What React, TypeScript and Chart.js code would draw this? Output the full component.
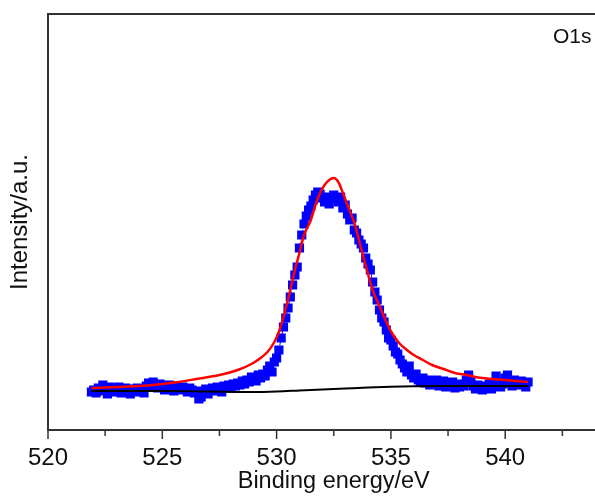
import React, { useEffect, useRef } from "react";
import { Chart, registerables } from "chart.js";

Chart.register(...registerables);

// Measured O1s spectrum: evenly sampled binding energies
const energyStart = 521.9;
const energyStep = 0.1;
const measuredIntensity = [
  38, 40, 37, 42, 39, 45, 41, 36, 43, 40,
  38, 41, 43, 37, 40, 42, 38, 36, 41, 39,
  42, 38, 40, 37, 44, 47, 43, 48, 45, 42,
  46, 44, 40, 43, 45, 41, 39, 44, 42, 40,
  43, 41, 38, 42, 40, 37, 39, 31, 33, 38,
  41, 36, 40, 42, 39, 43, 41, 38, 44, 42,
  45, 43, 46, 44, 47, 45, 49, 46, 50, 48,
  53, 51, 49, 55, 52, 56, 54, 60, 64, 58,
  68, 72, 80, 92, 103, 112, 122, 133, 145, 155,
  163, 182, 195, 206, 214, 220, 224, 230, 235, 238,
  236, 232, 228, 233, 226, 231, 235, 232, 228, 233,
  222, 225, 216, 210, 212, 200, 197, 190, 186, 182,
  172, 166, 160, 148, 138, 130, 120, 112, 108, 100,
  92, 90, 84, 78, 76, 70, 66, 62, 58, 64,
  55, 52, 56, 50, 48, 52, 47, 50, 45, 48,
  46, 50, 44, 47, 49, 43, 46, 44, 48, 42,
  45, 43, 46, 44, 50, 55, 48, 44, 41, 45,
  43, 40, 44, 42, 46, 41, 47, 54, 48, 43,
  46, 52, 55, 48, 44, 50, 47, 45, 49, 46,
  43, 48,
];

// Fitted envelope (red)
const fitEnergy = [
  521.9, 523.0, 524.0, 525.0, 525.7, 526.5, 527.5, 528.3, 528.9, 529.3,
  529.6, 529.9, 530.1, 530.3, 530.6, 530.8, 531.0, 531.2, 531.5, 531.7,
  531.9, 532.1, 532.3, 532.5, 532.7, 532.9, 533.1, 533.4, 533.8, 534.2,
  534.5, 534.8, 535.1, 535.4, 535.7, 536.0, 536.4, 536.8, 537.3, 537.8,
  538.3, 539.0, 540.0, 541.0,
];
const fitIntensity = [
  42, 43, 44, 46, 48, 51, 55, 60, 66, 72,
  78, 88, 98, 113, 140, 160, 177, 195, 210, 225,
  237, 245, 250, 252, 248, 237, 225, 207, 173, 140,
  124, 108, 95, 86, 80, 75, 70, 65, 61, 57,
  55, 52, 50, 48,
];

// Background (black)
const bgEnergy = [521.9, 525.0, 529.0, 530.0, 531.0, 532.0, 533.0, 534.0, 535.0, 536.0, 537.0, 539.0, 541.0];
const bgIntensity = [39, 39, 38, 38.5, 39.5, 40.5, 41.5, 42.5, 43.2, 43.7, 44, 44, 44];

const xTickValues = [520, 525, 530, 535, 540];
const xMin = 520;
const xMax = 545;
const xAxisTitle = "Binding energy/eV";
const yAxisTitle = "Intensity/a.u.";
const peakLabel = "O1s";

const FONT = "'Liberation Sans', Arial, Helvetica, sans-serif";

const axesPlugin = {
  id: "xpsAxes",
  afterDatasetsDraw(chart: any) {
    const { ctx, chartArea, scales } = chart;
    const { left, top, right, bottom } = chartArea;
    const x = scales.x;
    ctx.save();
    ctx.strokeStyle = "#333333";
    ctx.lineWidth = 2;
    ctx.beginPath();
    ctx.moveTo(left - 1, bottom);
    ctx.lineTo(right, bottom);
    ctx.moveTo(left - 1, top);
    ctx.lineTo(right, top);
    ctx.moveTo(left, top - 1);
    ctx.lineTo(left, bottom + 1);
    ctx.stroke();

    ctx.lineWidth = 1.5;
    const ticks = x.ticks && x.ticks.length ? x.ticks.map((t: any) => t.value) : [];
    for (const v of ticks) {
      const px = x.getPixelForValue(v);
      const major = Math.abs(v % 5) < 1e-6;
      ctx.beginPath();
      ctx.moveTo(px, bottom);
      ctx.lineTo(px, bottom + (major ? 9 : 6));
      ctx.stroke();
    }

    ctx.fillStyle = "#111111";
    ctx.font = `24px ${FONT}`;
    ctx.textAlign = "center";
    ctx.textBaseline = "alphabetic";
    for (const v of xTickValues) {
      ctx.fillText(String(v), x.getPixelForValue(v), 465);
    }

    ctx.font = `23.5px ${FONT}`;
    ctx.fillText(xAxisTitle, (left + right) / 2, 488);

    ctx.save();
    ctx.translate(27, (top + bottom) / 2);
    ctx.rotate(-Math.PI / 2);
    ctx.font = `24px ${FONT}`;
    ctx.fillText(yAxisTitle, 0, 0);
    ctx.restore();

    ctx.font = `21px ${FONT}`;
    ctx.textAlign = "left";
    ctx.fillText(peakLabel, 553, 43);
    ctx.restore();
  },
};

export default function App() {
  const canvasRef = useRef<HTMLCanvasElement | null>(null);

  useEffect(() => {
    if (!canvasRef.current) return;
    const measured = measuredIntensity.map((v, i) => ({
      x: Math.round((energyStart + i * energyStep) * 10) / 10,
      y: v,
    }));
    const fit = fitEnergy.map((e, i) => ({ x: e, y: fitIntensity[i] }));
    const bg = bgEnergy.map((e, i) => ({ x: e, y: bgIntensity[i] }));

    const chart = new Chart(canvasRef.current, {
      type: "line",
      data: {
        datasets: [
          {
            label: "fit",
            data: fit,
            borderColor: "#ff0000",
            borderWidth: 2.5,
            pointRadius: 0,
            cubicInterpolationMode: "monotone",
            fill: false,
            order: 1,
          },
          {
            label: "background",
            data: bg,
            borderColor: "#000000",
            borderWidth: 2,
            pointRadius: 0,
            cubicInterpolationMode: "monotone",
            fill: false,
            order: 2,
          },
          {
            label: "measured",
            data: measured,
            borderColor: "#0000ff",
            borderWidth: 1,
            borderDash: [5, 2, 1, 2],
            pointStyle: "rect",
            pointRadius: 6.5,
            pointBackgroundColor: "#0000ff",
            pointBorderWidth: 0,
            fill: false,
            order: 3,
          },
        ],
      },
      options: {
        responsive: false,
        animation: false,
        events: [],
        layout: { padding: { left: 48, top: 14, right: 0, bottom: 69 } },
        plugins: { legend: { display: false }, tooltip: { enabled: false } },
        scales: {
          x: {
            type: "linear",
            display: false,
            min: xMin,
            max: xMax,
            ticks: { stepSize: 2.5 },
          },
          y: {
            type: "linear",
            display: false,
            min: 0,
            max: 416,
          },
        },
      },
      plugins: [axesPlugin],
    } as any);
    return () => chart.destroy();
  }, []);

  return (
    <div
      style={{
        position: "absolute",
        left: 0,
        top: 0,
        width: 595,
        height: 499,
        overflow: "hidden",
        background: "#ffffff",
      }}
    >
      <canvas ref={canvasRef} width={626} height={499} style={{ display: "block" }} />
    </div>
  );
}
